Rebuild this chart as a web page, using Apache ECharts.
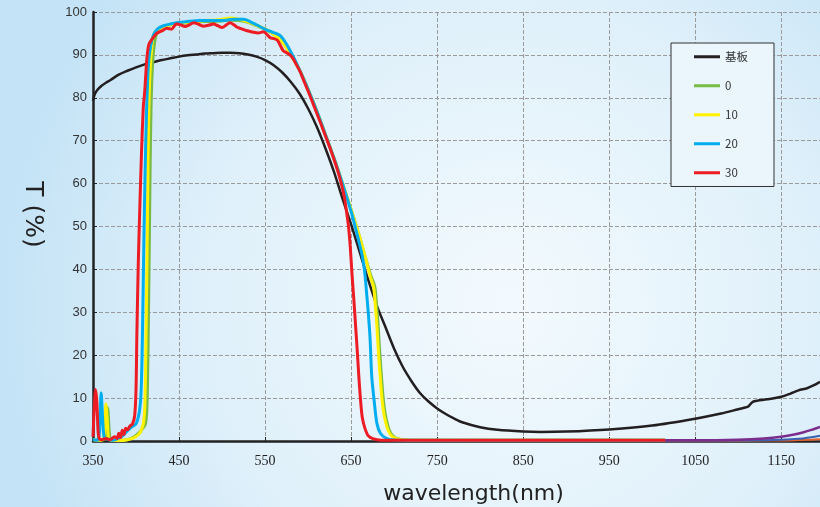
<!DOCTYPE html>
<html>
<head>
<meta charset="utf-8">
<script src="https://cdn.jsdelivr.net/npm/echarts@6/dist/echarts.min.js"></script>
<style>
  html, body { margin: 0; padding: 0; }
  #main { width: 820px; height: 507px; }
</style>
</head>
<body>
<div id="main"></div>
<script>
// x axis ticks (nm)
const xTicks = [350, 450, 550, 650, 750, 850, 950, 1050, 1150];

// 基板 (substrate)
const subWl = [350, 352, 355, 360, 365, 370, 380, 390, 400, 410, 420, 430, 440, 450, 460, 470, 480, 490, 500, 510, 520, 530, 540, 550, 560, 570, 580, 590, 600, 610, 620, 630, 640, 650, 660, 670, 680, 690, 700, 710, 720, 730, 740, 750, 760, 770, 780, 800, 820, 850, 870, 900, 950, 1000, 1050, 1080, 1100, 1108, 1112, 1116, 1120, 1140, 1150, 1160, 1170, 1180, 1188, 1195];
const subT = [79.3, 80.8, 81.8, 82.8, 83.5, 84.1, 85.4, 86.3, 87.1, 87.8, 88.3, 88.8, 89.2, 89.6, 89.9, 90.1, 90.3, 90.4, 90.5, 90.5, 90.4, 90.1, 89.6, 88.8, 87.6, 85.9, 83.7, 81.0, 77.5, 73.3, 68.3, 62.8, 56.5, 50.5, 44, 37.5, 31.5, 26.5, 21.5, 17.3, 14, 11.2, 9.2, 7.6, 6.3, 5.2, 4.3, 3.2, 2.6, 2.2, 2.1, 2.2, 2.7, 3.6, 5.2, 6.4, 7.4, 7.8, 8.1, 9.0, 9.3, 9.9, 10.3, 11.0, 11.8, 12.3, 13.0, 13.8];

// 0
const g0Wl = [350, 358, 362, 365, 366.5, 367.5, 369, 371, 380, 390, 398, 404, 408, 411, 412.5, 413.5, 414.5, 415.5, 416.5, 417.5, 419, 421, 424, 430, 440, 450, 460, 470, 480, 490, 500, 510, 520, 530, 540, 550, 560, 570, 580, 590, 600, 610, 620, 630, 640, 650, 660, 667, 673, 677.5, 679.5, 681.5, 683.5, 685.5, 687.5, 689.5, 691.5, 694.5, 698.5, 705, 720, 800, 900, 1015];
const g0T = [0.3, 0.2, 0.3, 1, 7.8, 7, 2, 0.2, 0.1, 0.3, 1, 2, 3, 4, 7, 15, 30, 47, 65, 78, 87, 92, 95, 96.4, 97, 97.3, 97.5, 97.7, 97.8, 97.8, 97.9, 98.1, 98, 97.6, 96.8, 96, 94.8, 93, 90, 86.5, 82, 77, 71.5, 66, 60, 54, 47.5, 42.5, 38.5, 36, 32, 26.6, 20, 14.5, 9.5, 6.5, 4.5, 2.5, 1.2, 0.5, 0.2, 0.15, 0.15, 0.15];

// 10
const y10Wl = [350, 358, 362, 363.5, 365, 366.5, 368, 370, 380, 390, 398, 403, 406, 408.5, 410, 411, 412, 413, 414, 415, 416.5, 418.5, 421, 430, 440, 450, 460, 470, 480, 490, 500, 510, 520, 530, 540, 550, 560, 570, 580, 590, 600, 610, 620, 630, 640, 650, 660, 667, 672, 676, 678, 680, 682, 684, 686, 688, 690, 693, 697, 704, 720, 800, 900, 1015];
const y10T = [0.3, 0.2, 0.5, 3, 8.6, 5, 0.5, 0.2, 0.1, 0.3, 0.8, 1.5, 2.5, 4, 7, 15, 30, 47, 65, 78, 87, 92, 95, 96.3, 97, 97.4, 97.6, 97.8, 98, 98.1, 98.3, 98.6, 98.3, 97.7, 96.9, 96, 94.8, 93, 90, 86.5, 82, 77, 71.5, 66, 60, 54, 47.5, 42.5, 38.5, 36, 32, 26.6, 20, 14.5, 9.5, 6.5, 4.5, 2.5, 1.2, 0.5, 0.2, 0.15, 0.15, 0.15];

// 20
const b20Wl = [350, 355, 357.5, 359.5, 361, 363, 366, 372, 383, 389, 395, 400, 404, 406, 407.5, 409, 410.5, 412, 413.5, 415, 417, 420, 422, 426, 432, 440, 447, 460, 474, 485, 494, 505, 513, 525, 536, 545, 552, 560, 567, 575, 583, 590, 600, 610, 620, 630, 640, 650, 656, 660.5, 663.5, 666, 668, 670, 672, 674, 677, 680, 684, 691, 700, 730, 800, 1015];
const b20T = [0.3, 0.2, 2, 11.2, 6, 0.8, 0.5, 0.2, 1, 2.2, 3.3, 4, 7, 12, 25, 45, 62, 75, 84, 89, 92, 94.5, 95.3, 96.2, 96.8, 97.2, 97.5, 97.8, 98, 98, 98, 98.1, 98.3, 98.3, 97.4, 96.5, 95.8, 95.2, 94.6, 92.5, 89.5, 86.5, 82, 77, 71.5, 66, 60, 53.5, 49, 45.3, 42.5, 39, 34.5, 29.8, 24, 15, 9, 4.1, 1.8, 0.6, 0.25, 0.15, 0.15, 0.15];

// 30
const r30Wl = [350, 351.5, 353, 354.5, 356, 357.5, 360, 365, 370, 375, 378, 380, 382, 384, 386, 388, 390, 393, 396, 398.5, 400, 401, 402.7, 404.5, 406.5, 408.5, 409.5, 410.5, 411.5, 413, 415, 418, 424, 430, 436, 441, 447, 452, 457, 462, 467, 472, 478, 484, 490, 495, 500, 505, 509, 514, 517, 521, 528, 536, 542, 548, 552, 556, 560, 564, 567, 571, 575, 579, 583, 587, 591, 596, 602, 608, 614, 620, 626, 632, 637, 642, 645, 647, 649, 651, 653, 655, 657, 659, 661, 663, 666, 670, 676, 685, 700, 800, 1015];
const r30T = [1, 8, 12, 9, 2, 0.5, 0.3, 0.6, 0.3, 1, 0.6, 1.8, 0.8, 2.5, 1.5, 3, 2.6, 3.5, 4, 6, 12, 25, 42, 55, 68, 78, 80, 82.6, 86, 90, 92.5, 93.5, 95, 95.6, 96.2, 96, 97.2, 97, 96.6, 97, 97.5, 97.2, 96.7, 96.9, 97.2, 96.8, 96.4, 97, 97.5, 97, 96.5, 96.2, 95.7, 95.3, 95.1, 95.4, 94.8, 94, 93.8, 93.5, 92.5, 91, 90.5, 90, 89, 87.5, 86, 83.5, 80.6, 77.5, 74.4, 71.2, 68, 64.5, 61.2, 57, 53, 50, 45.3, 39, 33.5, 27.5, 21.5, 15, 9.5, 5.5, 3, 1.2, 0.5, 0.2, 0.15, 0.15, 0.15];

// unlabeled tails beyond 1015 nm
const tailWl = [1015, 1050, 1100, 1130, 1150, 1165, 1175, 1185, 1195];
const tailPurpleT = [0.15, 0.15, 0.3, 0.6, 1.0, 1.5, 2.0, 2.6, 3.3];
const tailBlueT = [0.1, 0.1, 0.1, 0.2, 0.3, 0.45, 0.6, 0.85, 1.2];
const tailOrangeT = [0.05, 0.05, 0.05, 0.1, 0.12, 0.18, 0.25, 0.32, 0.4];

function pairs(xs, ys) {
    return xs.map((x, i) => [x, ys[i]]);
}

function lineSeries(name, color, width, data) {
    return {
        name: name,
        type: 'line',
        data: data,
        symbol: 'none',
        smooth: 0.3,
        clip: false,
        lineStyle: { color: color, width: width },
        itemStyle: { color: color }
    };
}

let myChart = echarts.init(document.getElementById('main'));
let option = {
    backgroundColor: {
        type: 'radial', x: 0.62, y: 0.6, r: 1.0,
        colorStops: [
            { offset: 0, color: '#f3fafe' },
            { offset: 0.6, color: '#dff0fa' },
            { offset: 1, color: '#c4e3f6' }
        ]
    },
    animation: false,
    grid: { left: 93, right: 0, top: 12, bottom: 66, containLabel: false, outerBoundsMode: 'none' },
    legend: {
        orient: 'vertical',
        left: 671,
        top: 43,
        padding: [8, 26, 8, 23],
        icon: 'rect',
        itemWidth: 26,
        itemHeight: 3,
        itemGap: 17.5,
        backgroundColor: '#eaf5fc',
        borderColor: '#333',
        borderWidth: 1,
        textStyle: { fontSize: 11.5, color: '#333', fontFamily: 'Noto Sans CJK SC' },
        data: ['基板', '0', '10', '20', '30']
    },
    xAxis: {
        type: 'value',
        min: 350,
        max: 1195,
        interval: 100,
        name: 'wavelength(nm)',
        nameLocation: 'middle',
        nameGap: 42,
        nameTextStyle: { fontFamily: 'DejaVu Sans', fontSize: 22, color: '#222', padding: [0, 0, 0, 34] },
        axisLine: { lineStyle: { color: '#222', width: 2.5 } },
        axisTick: { inside: true, length: 4, lineStyle: { color: '#222' } },
        axisLabel: {
            showMaxLabel: false, margin: 13, fontFamily: 'Liberation Serif', fontSize: 14, color: '#222',
            formatter: v => String(v)
        },
        splitLine: { show: true, lineStyle: { color: '#9a9a9a', type: [4, 2], width: 1 } }
    },
    yAxis: {
        type: 'value',
        min: 0,
        max: 100,
        interval: 10,
        name: 'T (%)',
        nameLocation: 'middle',
        nameRotate: -90,
        nameGap: 48,
        nameTextStyle: { fontFamily: 'DejaVu Sans', fontSize: 25, color: '#222', padding: [0, 24, 0, 0] },
        axisLine: { show: true, lineStyle: { color: '#222', width: 2.5 } },
        axisTick: { show: true, inside: true, length: 4, lineStyle: { color: '#222' } },
        axisLabel: { margin: 6, fontFamily: 'Liberation Sans', fontSize: 13, color: '#333' },
        splitLine: { show: true, lineStyle: { color: '#9a9a9a', type: [4, 2], width: 1 } }
    },
    series: [
        lineSeries('基板', '#231f20', 2.5, pairs(subWl, subT)),
        lineSeries('0', '#77bb44', 3, pairs(g0Wl, g0T)),
        lineSeries('10', '#fff200', 3, pairs(y10Wl, y10T)),
        lineSeries('20', '#00aeef', 3, pairs(b20Wl, b20T)),
        lineSeries('30', '#ed1c24', 3, pairs(r30Wl, r30T)),
        lineSeries('tailOrange', '#e2622b', 2, pairs(tailWl, tailOrangeT)),
        lineSeries('tailBlue', '#3a62b0', 2, pairs(tailWl, tailBlueT)),
        lineSeries('tailPurple', '#7b2d8e', 2.5, pairs(tailWl, tailPurpleT))
    ]
};
myChart.setOption(option);
</script>
</body>
</html>
